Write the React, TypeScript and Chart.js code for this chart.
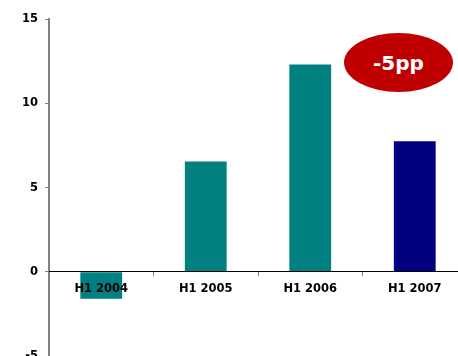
import React, { useEffect, useRef } from "react";
import { Chart, registerables } from "chart.js";

Chart.register(...registerables);

const categories = ["H1 2004", "H1 2005", "H1 2006", "H1 2007"];
const values = [-1.6, 6.55, 12.3, 7.75];
const barColors = ["#008080", "#008080", "#008080", "#000080"];
const yMin = -5;
const yMax = 15;
const yStep = 5;
const badgeText = "-5pp";

const FONT = "'DejaVu Sans', Verdana, sans-serif";

export default function App() {
  const ref = useRef<HTMLCanvasElement>(null);

  useEffect(() => {
    if (!ref.current) return;
    const chart = new Chart(ref.current, {
      type: "bar",
      data: {
        labels: categories,
        datasets: [
          {
            data: values,
            backgroundColor: barColors,
            borderWidth: 0,
            barPercentage: 0.4,
            categoryPercentage: 1,
          },
        ],
      },
      options: {
        animation: false,
        responsive: false,
        devicePixelRatio: 1,
        layout: { padding: { left: 0, right: 1, top: 19, bottom: 10 } },
        plugins: { legend: { display: false }, tooltip: { enabled: false } },
        scales: {
          x: {
            position: { y: 0 } as any,
            grid: {
              drawOnChartArea: false,
              drawTicks: true,
              tickLength: 4,
              color: "#808080",
              offset: true,
              z: 1,
            },
            border: { color: "#000000", width: 1, z: 1 },
            ticks: {
              color: "#000000",
              font: { family: FONT, size: 11.5, weight: "bold" },
              padding: 6,
              maxRotation: 0,
              z: 2,
            },
          },
          y: {
            min: yMin,
            max: yMax,
            grid: {
              drawOnChartArea: false,
              drawTicks: true,
              tickLength: 4,
              color: "#808080",
            },
            border: { color: "#808080", width: 2 },
            ticks: {
              stepSize: yStep,
              color: "#000000",
              font: { family: FONT, size: 11.5, weight: "bold" },
              padding: 7,
            },
            afterFit: (scale: any) => {
              scale.width = 49;
            },
          },
        },
      },
    });
    return () => chart.destroy();
  }, []);

  return (
    <div style={{ position: "fixed", left: 0, top: 0, width: 468, height: 370, background: "#fff" }}>
      <canvas ref={ref} width={468} height={370} style={{ display: "block" }} />
      <div
        style={{
          position: "absolute",
          left: 344,
          top: 33,
          width: 109,
          height: 59,
          borderRadius: "50%",
          background: "#C00000",
          color: "#ffffff",
          fontFamily: FONT,
          fontWeight: "bold",
          fontSize: 20,
          display: "flex",
          alignItems: "center",
          justifyContent: "center",
        }}
      >
        {badgeText}
      </div>
    </div>
  );
}
